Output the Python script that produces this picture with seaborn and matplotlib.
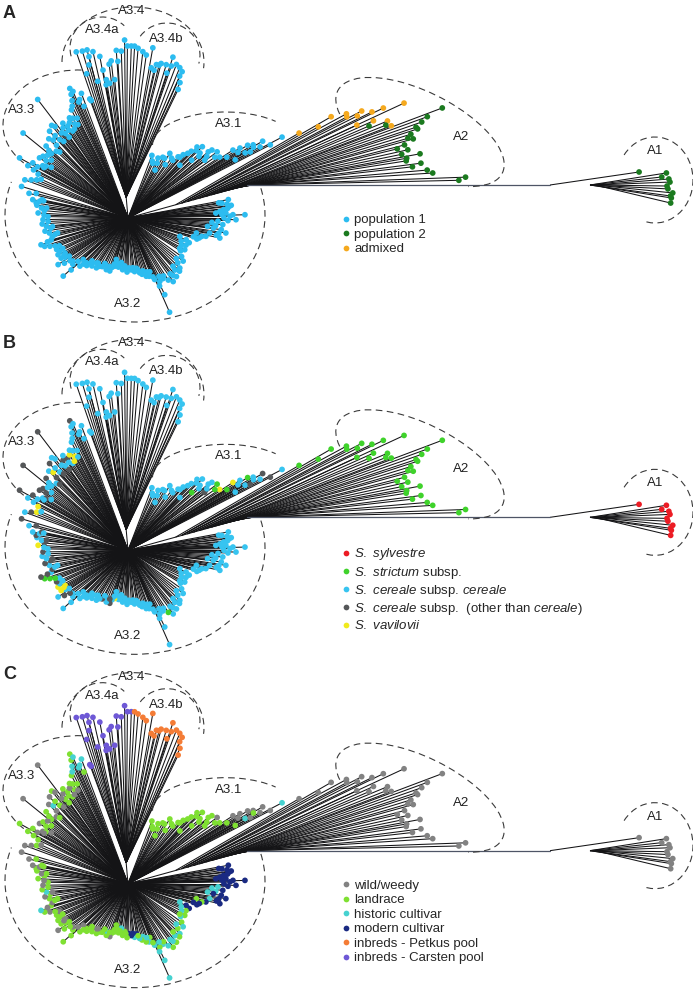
import numpy as np
import pandas as pd
import matplotlib
matplotlib.use("Agg")
import matplotlib.pyplot as plt
from matplotlib.collections import LineCollection
from matplotlib.patches import Arc
import seaborn as sns

# ============================
# Tree data
# angles in degrees from the tree centre, branch lengths in panel pixels
# category codes: one letter per leaf (spaces only group the letters)
# ============================

# A3.2 (large lower clade)
a32_theta = [
    10.4, 9.0, 8.0, 7.0, 6.6, 5.0, 4.0, 3.2, 2.9, 1.8,
    1.6, 1.0, 0.0, -0.9, -2.0, -3.0, -4.0, -5.0, -6.7, -7.1,
    -8.7, -10.4, -11.0, -12.3, -12.4, -13.2, -14.0, -15.6, -17.0, -19.5,
    -20.4, -22.0, -25.0, -27.0, -29.2, -32.0, -35.7, -38.0, -42.0, -44.0,
    -45.9, -48.0, -50.4, -52.0, -54.6, -57.0, -60.0, -63.4, -64.4, -65.1,
    -66.2, -66.6, -68.0, -70.0, -72.6, -74.3, -76.0, -78.0, -80.5, -83.0,
    -86.3, -89.0, -91.0, -93.9, -96.0, -98.5, -101.0, -103.0, -105.4, -105.7,
    -108.0, -109.0, -112.8, -115.0, -118.0, -120.4, -122.4, -125.0, -127.0, -129.2,
    -131.0, -132.8, -135.0, -137.2, -137.6, -138.1, -140.0, -142.0, -144.6, -146.3,
    -148.0, -149.0, -151.0, -152.3, -154.0, -156.2, -158.0, -160.1, -161.2, -162.9,
    -164.0, -166.0, -167.2, -169.2, -171.0, -172.5, -174.2, -176.0, -178.9, -181.0,
    -183.2, -185.0, -186.6, -188.0, -189.3, -190.7, -190.9, -192.0, -194.0, -196.5,
    9.5, 5.5, 2.2, -1.5, -6.0, -9.5, -16.0, -23.5, -30.5, -40.0,
    -47.0, -53.0, -58.5, -62.0, -67.0, -71.0, -79.0, -84.5, -92.5, -99.5,
    -106.5, -110.5, -117.0, -123.5, -130.0, -134.0, -139.0, -143.5, -147.0, -150.0,
    -155.0, -159.0, -163.5, -168.0, -173.5, -177.5, -182.0, -187.0, -191.5, -195.0,
]
a32_length = [
    102, 95, 100, 104, 102, 96, 92, 88, 98, 105,
    117, 102, 96, 108, 90, 84, 95, 88, 86, 94,
    99, 83, 90, 94, 70, 80, 76, 74, 72, 55,
    62, 66, 64, 60, 65, 62, 66, 70, 67, 72,
    74, 70, 76, 73, 78, 74, 70, 71, 85, 75,
    103, 67, 58, 62, 61, 55, 58, 56, 51, 54,
    52, 50, 54, 48, 52, 45, 50, 47, 50, 43,
    52, 56, 56, 52, 55, 56, 59, 55, 60, 58,
    63, 61, 68, 61, 77, 87, 72, 70, 78, 84,
    74, 78, 72, 79, 76, 78, 74, 83, 88, 91,
    80, 78, 75, 80, 84, 78, 82, 86, 85, 80,
    90, 84, 87, 92, 93, 90, 97, 88, 102, 111,
    92, 100, 94, 100, 80, 92, 68, 58, 60, 63,
    66, 70, 68, 66, 64, 57, 53, 50, 50, 48,
    48, 52, 51, 54, 56, 64, 66, 72, 70, 74,
    72, 78, 84, 72, 76, 80, 84, 82, 86, 95,
]
a32_pop = ("pppppppppp pppppppppp pppppppppp pppppppppp pppppppppp pppppppppp "
           "pppppppppp pppppppppp pppppppppp pppppppppp pppppppppp pppppppppp "
           "pppppppppp pppppppppp pppppppppp pppppppppp")
a32_taxon = ("cccccccccc cccccccccc cccccccccc cccccccccc cccccscccc cccccccccc "
             "ccccccccvc coccoccccc ccccccccoc cvvvcocsso coccooccoc voccoccoco "
             "cccccccccc cccccccccc cocccccocv csococcoco")
a32_status = ("nnnnnnnnnn nnnnhhnhnn nhnnlnlnnh nnlhlhlhlh lhlhlhhlhh hhlhlhlhnh "
              "nnlllhllll lwlhlllwll lllwlllwlw llwlllwwlh lwllwlhlwl llwllwwlww "
              "nnnnhnnhlh lhlhlhlnll lllwllwllw llwlwlwlll")

# A3.3 (upper left clade)
a33_theta = [
    159.7, 157.3, 156.0, 154.0, 152.4, 151.0, 150.5, 149.9, 148.5, 147.7,
    146.5, 145.8, 144.0, 143.0, 141.0, 140.0, 138.7, 137.0, 136.0, 135.0,
    133.8, 132.1, 131.0, 130.0, 129.5, 128.6, 127.3, 126.5, 125.8, 124.5,
    123.2, 122.4, 121.5, 120.3, 119.5, 118.2, 117.6, 116.5, 115.5, 114.7,
    114.2, 113.5, 112.2, 111.5, 110.5,
    158.5, 153.0, 149.0, 145.0, 142.0, 139.5, 134.5, 131.5, 128.0, 126.0,
    124.0, 121.0, 119.0, 117.0, 113.0,
]
a33_length = [
    110, 99, 95, 100, 113, 124, 104, 110, 100, 97,
    92, 107, 105, 96, 135, 100, 109, 98, 95, 112,
    108, 117, 104, 100, 120, 117, 149, 105, 111, 115,
    110, 103, 112, 116, 108, 106, 122, 125, 130, 136,
    142, 138, 128, 120, 133,
    104, 106, 98, 100, 102, 104, 102, 110, 108, 100,
    106, 104, 114, 112, 126,
]
a33_pop = "pppppppppp pppppppppp pppppppppp pppppppppp ppppp pppppppppp ppppp"
a33_taxon = "cvcvcococo coococococ vococcococ ocvcvccccc occcc occoccocco cvccc"
a33_status = "wlwlllwlwl wwllwllwlw hwlwlwwlwl llwllwlhhl lhhlh wlwlwlwlwl lwllh"

# A3.4a
a34a_theta = [107.8, 107.4, 107.3, 106.0, 105.3, 104.3, 103.7, 103.6, 102.5, 101.9,
              99.9, 99.6, 99.3, 98.9, 97.7, 97.0, 96.1, 95.5, 94.0, 93.7,
              92.3, 91.1]
a34a_length = [125, 123, 174, 150, 173, 158, 173, 166, 140, 170,
               164, 150, 135, 140, 136, 155, 158, 139, 168, 157,
               167, 178]
a34a_pop = "pppppppppp pppppppppp pp"
a34a_taxon = "cccccccccc cccccccccc cc"
a34a_status = "kkkkkkkkkk kkkkkkkkkk kk"

# A3.4b
a34b_theta = [90.2, 88.9, 87.8, 86.6, 84.9, 83.6, 81.7, 81.2, 80.0, 79.5,
              78.5, 77.9, 76.0, 75.0, 74.4, 74.1, 72.5, 71.0, 69.7, 70.0,
              69.0, 68.7]
a34b_length = [172, 172, 172, 170, 167, 164, 172, 152, 150, 156,
               156, 158, 158, 150, 167, 158, 161, 159, 156, 151,
               145, 138]
a34b_pop = "pppppppppp pppppppppp pp"
a34b_taxon = "cccccccccc cccccccccc cc"
a34b_status = "kktttttttt tttttttttt tt"

# A3.1
a31_theta = [69.1, 65.6, 63.4, 60.6, 60.2, 57.1, 55.1, 52.2, 50.7, 48.9,
             47.3, 45.8, 45.5, 43.8, 42.2, 42.1, 39.5, 39.0, 37.0, 36.6,
             33.6, 32.9, 32.0, 31.6, 31.3, 30.3, 29.7, 29.1, 28.5, 28.4,
             28.3, 27.7, 27.2,
             67.0, 62.0, 58.5, 54.0, 49.5, 46.5, 44.5, 41.0, 38.0, 35.0,
             30.8, 29.4]
a31_length = [67, 60, 67, 55, 70, 77, 65, 73, 79, 84,
              88, 99, 74, 103, 86, 97, 104, 108, 96, 111,
              110, 125, 132, 116, 140, 145, 155, 134, 122, 139,
              150, 174, 160,
              62, 62, 70, 74, 80, 92, 96, 94, 100, 106,
              128, 144]
a31_pop = "pppppppppp pppppppppp pppppppppp ppp pppppppppp pp"
a31_taxon = "cccccccccc ccccscccos vvcsscocco cco cccccccccs cc"
a31_status = "llllllllll lllllllllw lwwlwwwhlw whw llllllllll wl"

# A2 (leaves hang off the stem towards A1; split = position on that stem)
a2_theta = [22.6, 23.3, 23.5, 24.6, 24.0, 25.5, 24.8, 26.5, 25.6, 26.4,
            21.6, 20.5, 19.3, 22.1, 19.3, 18.7, 18.1, 20.9, 19.8, 17.5,
            17.1, 16.5, 15.9, 15.5, 14.8, 13.7, 14.4, 13.1, 12.4, 12.1,
            11.6, 10.6, 10.2, 9.1, 8.4, 6.9, 6.5]
a2_length = [299, 278, 266, 257, 251, 242, 241, 227, 211, 191,
             264, 277, 279, 247, 333, 316, 309, 258, 274, 302,
             303, 295, 291, 296, 286, 288, 278, 281, 299, 285,
             284, 298, 289, 303, 308, 340, 333]
a2_split = [0.60, 0.55, 0.55, 0.50, 0.50, 0.45, 0.50, 0.45, 0.45, 0.40,
            0.62, 0.65, 0.70, 0.60, 0.72, 0.74, 0.76, 0.66, 0.70, 0.78,
            0.80, 0.82, 0.84, 0.85, 0.87, 0.90, 0.88, 0.91, 0.92, 0.93,
            0.94, 0.96, 0.97, 0.98, 1.00, 1.00, 1.00]
a2_pop = "mmmmmmmmmm mmmmqqqqqq qqqqqqqqqq qqqqqqq"
a2_taxon = "ssssssssss ssssssssss ssssssssss sssssss"
a2_status = "wwwwwwwwww wwwwwwwwww wwwwwwwwww wwwwwww"

# A1 (measured from the A1 node at the end of the long branch)
a1_theta = [8.3, 5.9, 4.1, 2.9, 1.4, -0.5, -1.9, -3.7, -5.2, -6.1, -8.5]
a1_length = [90, 117, 112, 119, 120, 117, 118, 123, 121, 122, 122]
a1_split = [0, 40, 40, 45, 45, 45, 40, 45, 40, 40, 45]
a1_pop = "qqqqqqqqqqq"
a1_taxon = "yyyyyyyyyyy"
a1_status = "wwwwwwwwwww"

# internal branches
a2_node = (15.5, 123.5)     # polar from the centre
a1_branch = 303             # long horizontal branch A2 -> A1
a34_node = (95.0, 21.0)     # polar from the centre

# ============================
# Category labels / colours
# ============================
pop_labels = {"p": "population 1", "q": "population 2", "m": "admixed"}
pop_colors = ["#2cbcf0", "#1b7a1f", "#f5a91e"]

taxon_labels = {
    "y": r"$\it{S.\ sylvestre}$",
    "s": r"$\it{S.\ strictum}$ subsp.",
    "c": r"$\it{S.\ cereale}$ subsp. $\it{cereale}$",
    "o": r"$\it{S.\ cereale}$ subsp.  (other than $\it{cereale}$)",
    "v": r"$\it{S.\ vavilovii}$",
}
taxon_colors = ["#ec1c24", "#3fd22b", "#37c4f0", "#555759", "#f0ea1d"]

status_labels = {"w": "wild/weedy", "l": "landrace", "h": "historic cultivar",
                 "n": "modern cultivar", "t": "inbreds - Petkus pool",
                 "k": "inbreds - Carsten pool"}
status_colors = ["#828282", "#7fe032", "#46d2d0", "#1a2a82", "#f47c36", "#6e58d6"]


def codes(s):
    return list("".join(s.split()))


def clade(name, theta, length, pop, taxon, status, split=None):
    df = pd.DataFrame({"theta": theta, "length": length,
                       "pop": codes(pop), "taxon": codes(taxon),
                       "status": codes(status)})
    df["clade"] = name
    df["split"] = split if split is not None else 0.0
    return df


leaves = pd.concat([
    clade("A3.2", a32_theta, a32_length, a32_pop, a32_taxon, a32_status),
    clade("A3.3", a33_theta, a33_length, a33_pop, a33_taxon, a33_status),
    clade("A3.4a", a34a_theta, a34a_length, a34a_pop, a34a_taxon, a34a_status),
    clade("A3.4b", a34b_theta, a34b_length, a34b_pop, a34b_taxon, a34b_status),
    clade("A3.1", a31_theta, a31_length, a31_pop, a31_taxon, a31_status),
    clade("A2", a2_theta, a2_length, a2_pop, a2_taxon, a2_status, a2_split),
    clade("A1", a1_theta, a1_length, a1_pop, a1_taxon, a1_status, a1_split),
], ignore_index=True)

leaves["pop"] = leaves["pop"].map(pop_labels)
leaves["taxon"] = leaves["taxon"].map(taxon_labels)
leaves["status"] = leaves["status"].map(status_labels)

# ============================
# Geometry (panel pixels, y pointing down)
# ============================
CX, CY = 128.0, 218.0


def polar(r, deg, ox=CX, oy=CY):
    a = np.deg2rad(deg)
    return ox + r * np.cos(a), oy - r * np.sin(a)


n2x, n2y = polar(a2_node[1], a2_node[0])
n1x, n1y = n2x + a1_branch, n2y
n34x, n34y = polar(a34_node[1], a34_node[0])

ex, ey = polar(leaves["length"].to_numpy(), leaves["theta"].to_numpy())
sx = np.full(len(leaves), CX)
sy = np.full(len(leaves), CY)

m = leaves["clade"].isin(["A3.4a", "A3.4b"]).to_numpy()
sx[m], sy[m] = n34x, n34y

m = (leaves["clade"] == "A2").to_numpy()
t = leaves["split"].to_numpy()
sx[m] = CX + t[m] * (n2x - CX)
sy[m] = CY + t[m] * (n2y - CY)

m = (leaves["clade"] == "A1").to_numpy()
ax1, ay1 = polar(leaves["length"].to_numpy(), leaves["theta"].to_numpy(), n1x, n1y)
ex[m], ey[m] = ax1[m], ay1[m]
sx[m], sy[m] = n1x + t[m], n1y

leaves["x"], leaves["y"] = ex, ey
segments = [[(a, b), (c, d)] for a, b, c, d in zip(sx, sy, ex, ey)]
segments += [[(CX, CY), (n2x, n2y)], [(CX, CY), (n34x, n34y)]]

# clade outlines: (centre, width, height, tilt, theta1, theta2)
outlines = [
    ((133, 62), 142, 110, 0, 180, 365),
    ((102, 48), 64, 62, 0, 165, 315),
    ((167, 55), 66, 64, 0, 215, 375),
    ((78, 125), 150, 110, 0, 145, 275),
    ((135, 215), 260, 214, 0, -12, 195),
    ((225, 145), 145, 66, 0, 180, 335),
    ((420, 132), 184, 80, 26.6, 166, 382),
    ((655, 180), 76, 86, 0, 219, 466),
]
clade_labels = [("A3.4", 132, 11), ("A3.4a", 102, 30), ("A3.4b", 166, 39),
                ("A3.3", 22, 110), ("A3.1", 229, 124), ("A3.2", 128, 304),
                ("A2", 461, 137), ("A1", 655, 151)]

# ============================
# Figure
# ============================
sns.set_style("white")
plt.rcParams["font.family"] = ["Liberation Sans", "DejaVu Sans"]
plt.rcParams["mathtext.fontset"] = "custom"
plt.rcParams["mathtext.it"] = "Liberation Sans:italic"
plt.rcParams["mathtext.rm"] = "Liberation Sans"

W, H = 693, 991
PH = H / 3
fig = plt.figure(figsize=(W / 100, H / 100), dpi=100)

panels = [
    ("A", "pop", list(pop_labels.values()), pop_colors, 0),
    ("B", "taxon", list(taxon_labels.values()), taxon_colors, 2),
    ("C", "status", list(status_labels.values()), status_colors, 5),
]

for i, (letter, col, order, colors, off) in enumerate(panels):
    ax = fig.add_axes([0, 1 - (i + 1) / 3, 1, 1 / 3])

    ax.add_collection(LineCollection(segments, colors="#141416",
                                     linewidths=0.75, zorder=1))
    ax.plot([n2x, n1x], [n2y, n1y], color="#4e5566", lw=0.9, zorder=1)

    sns.scatterplot(data=leaves, x="x", y="y", hue=col, hue_order=order,
                    palette=dict(zip(order, colors)), s=17, linewidth=0,
                    ax=ax, zorder=3)

    for (c, w, h, ang, t1, t2) in outlines:
        ax.add_patch(Arc(c, w, h, angle=ang, theta1=t1, theta2=t2,
                         color="#3a3a3a", lw=0.8, linestyle=(0, (6, 4))))
    for name, x, y in clade_labels:
        ax.text(x, y, name, ha="center", va="center", fontsize=9.5,
                color="#222222")

    ax.text(0.004, 1 - 18 / PH, letter, transform=ax.transAxes,
            fontsize=13, fontweight="bold", va="baseline", ha="left")

    sns.move_legend(ax, "upper left", bbox_to_anchor=(341, 214),
                    bbox_transform=ax.transData, frameon=False, title=None,
                    fontsize=9.5, handletextpad=0.2, labelspacing=0.17,
                    borderaxespad=0, borderpad=0, handlelength=0.8)

    ax.set_xlim(0, W)
    ax.set_ylim(PH - off, -off)
    ax.axis("off")

fig.savefig("out.png", dpi=100, facecolor="white")
